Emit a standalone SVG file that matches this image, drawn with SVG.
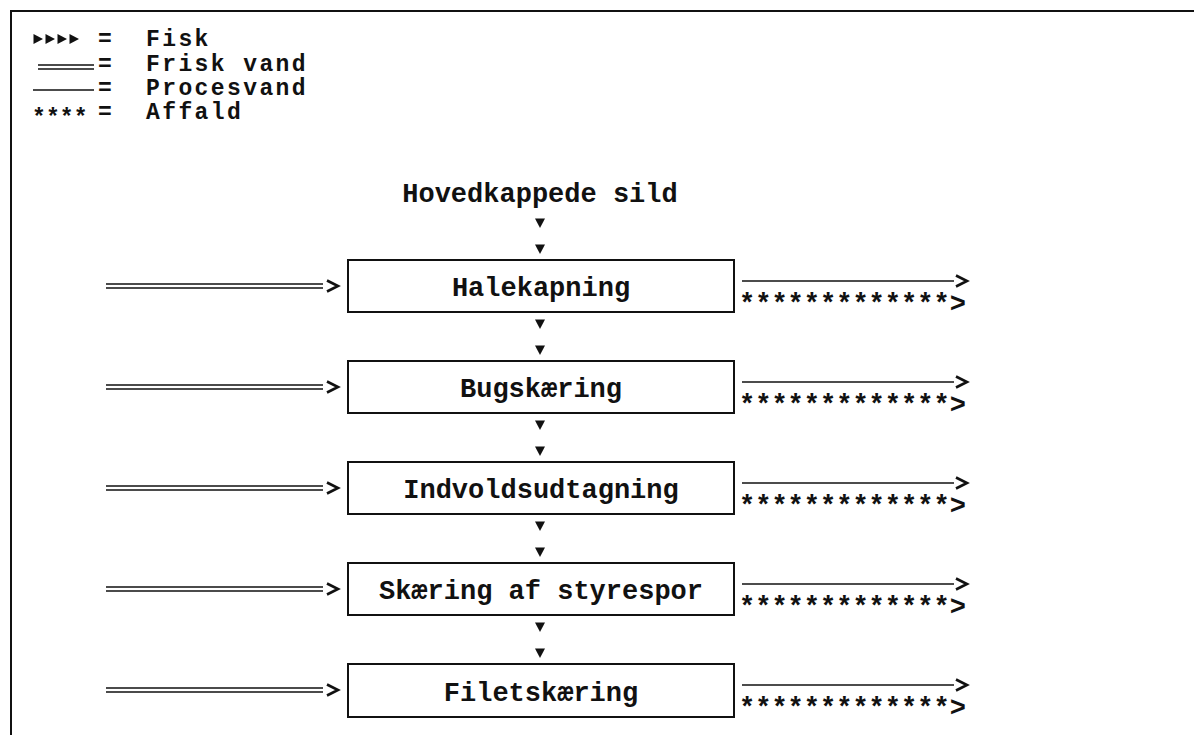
<svg xmlns="http://www.w3.org/2000/svg" width="1194" height="735" viewBox="0 0 1194 735">
<style>
  .t { font-family: "Liberation Mono", "Courier New", monospace; font-weight: bold; font-size: 27px; fill: #111; }
  .lg { font-family: "Liberation Mono", "Courier New", monospace; font-weight: bold; font-size: 23px; letter-spacing: 2.4px; fill: #111; }
  .c { text-anchor: middle; }
  .box { fill: #fff; stroke: #111; stroke-width: 2; }
  .ln { fill: none; stroke: #111; stroke-width: 1.6; }
  .chev { fill: none; stroke: #111; stroke-width: 2.6; stroke-linejoin: miter; }
  .tri { fill: #111; }
</style>
<defs>
  <path id="dn" class="tri" d="M-5,-4.5 L5,-4.5 L0,5 Z"/>
  <path id="rt" class="tri" d="M-4.5,-5 L5,0 L-4.5,5 Z"/>
  <path id="ch" class="chev" d="M-11,-5.5 L0,0 L-11,5.5"/>
</defs>
<rect width="1194" height="735" fill="#fff"/>
<g id="frame">
  <path d="M11,735 L11,11 L1194,11" fill="none" stroke="#111" stroke-width="2"/>
</g>
<g id="legend">
  <use href="#rt" x="38" y="39"/>
  <use href="#rt" x="50" y="39"/>
  <use href="#rt" x="62" y="39"/>
  <use href="#rt" x="74" y="39"/>
  <text class="lg" x="98" y="46">=</text>
  <text class="lg" x="146" y="46">Fisk</text>
  <path class="ln" d="M38,65 L94,65 M38,69 L94,69"/>
  <text class="lg" x="98" y="71">=</text>
  <text class="lg" x="146" y="71">Frisk vand</text>
  <path class="ln" d="M33,90 L94,90"/>
  <text class="lg" x="98" y="95">=</text>
  <text class="lg" x="146" y="95">Procesvand</text>
  <text class="lg" x="32" y="125" textLength="58">****</text>
  <text class="lg" x="98" y="119">=</text>
  <text class="lg" x="146" y="119">Affald</text>
</g>
<g id="input">
  <text class="t c" x="540" y="202">Hovedkappede sild</text>
</g>
<g id="n1">
  <rect class="box" x="348" y="260" width="386" height="52"/>
  <text class="t c" x="541" y="296">Halekapning</text>
</g>
<g id="n2">
  <rect class="box" x="348" y="361" width="386" height="52"/>
  <text class="t c" x="541" y="397">Bugskæring</text>
</g>
<g id="n3">
  <rect class="box" x="348" y="462" width="386" height="52"/>
  <text class="t c" x="541" y="498">Indvoldsudtagning</text>
</g>
<g id="n4">
  <rect class="box" x="348" y="563" width="386" height="52"/>
  <text class="t c" x="541" y="599">Skæring af styrespor</text>
</g>
<g id="n5">
  <rect class="box" x="348" y="664" width="386" height="53"/>
  <text class="t c" x="541" y="701">Filetskæring</text>
</g>
<g id="connectors">
  <use href="#dn" x="540" y="223"/><use href="#dn" x="540" y="249"/>
  <use href="#dn" x="540" y="324"/><use href="#dn" x="540" y="350"/>
  <use href="#dn" x="540" y="425"/><use href="#dn" x="540" y="451"/>
  <use href="#dn" x="540" y="526"/><use href="#dn" x="540" y="552"/>
  <use href="#dn" x="540" y="627"/><use href="#dn" x="540" y="653"/>
  <path class="ln" d="M106,284 L323,284 M106,288 L323,288"/><use href="#ch" x="338" y="286"/>
  <path class="ln" d="M106,385 L323,385 M106,389 L323,389"/><use href="#ch" x="338" y="387"/>
  <path class="ln" d="M106,486 L323,486 M106,490 L323,490"/><use href="#ch" x="338" y="488"/>
  <path class="ln" d="M106,587 L323,587 M106,591 L323,591"/><use href="#ch" x="338" y="589"/>
  <path class="ln" d="M106,688 L323,688 M106,692 L323,692"/><use href="#ch" x="338" y="690"/>
  <path class="ln" d="M742,281 L954,281"/><use href="#ch" x="967" y="281"/>
  <path class="ln" d="M742,382 L954,382"/><use href="#ch" x="967" y="382"/>
  <path class="ln" d="M742,483 L954,483"/><use href="#ch" x="967" y="483"/>
  <path class="ln" d="M742,584 L954,584"/><use href="#ch" x="967" y="584"/>
  <path class="ln" d="M742,685 L954,685"/><use href="#ch" x="967" y="685"/>
  <text class="t" x="739" y="312">*************&gt;</text>
  <text class="t" x="739" y="413">*************&gt;</text>
  <text class="t" x="739" y="514">*************&gt;</text>
  <text class="t" x="739" y="615">*************&gt;</text>
  <text class="t" x="739" y="716">*************&gt;</text>
</g>
</svg>
